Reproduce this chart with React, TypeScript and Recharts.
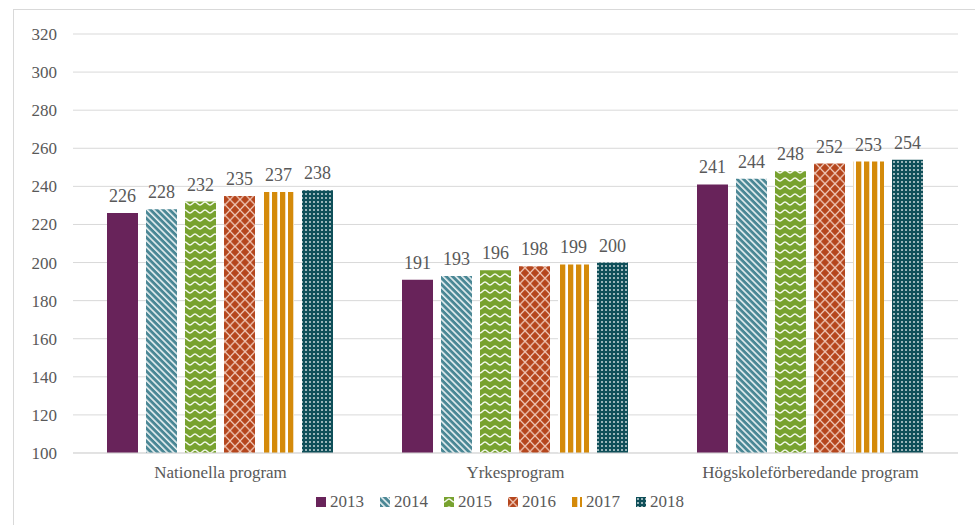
import React from "react";
import { BarChart, Bar, XAxis, YAxis, CartesianGrid, LabelList } from "recharts";

const categories = ["Nationella program", "Yrkesprogram", "Högskoleförberedande program"];
const years = ["2013", "2014", "2015", "2016", "2017", "2018"];
const v2013 = [226, 191, 241];
const v2014 = [228, 193, 244];
const v2015 = [232, 196, 248];
const v2016 = [235, 198, 252];
const v2017 = [237, 199, 253];
const v2018 = [238, 200, 254];
const yTicks = [100, 120, 140, 160, 180, 200, 220, 240, 260, 280, 300, 320];

const seriesValues = [v2013, v2014, v2015, v2016, v2017, v2018];
const data = categories.map((c, i) => {
  const row: any = { name: c };
  years.forEach((y, k) => (row[y] = seriesValues[k][i]));
  return row;
});

const fills = ["#68235a", "url(#p2014)", "url(#p2015)", "url(#p2016)", "url(#p2017)", "url(#p2018)"];
const FONT = "Liberation Serif";
const TXT = "#595959";

function Patterns() {
  return (
    <svg width="0" height="0" style={{ position: "absolute" }}>
      <defs>
        <pattern id="p2014" patternUnits="userSpaceOnUse" width="4.5" height="4.5" patternTransform="rotate(-45)">
          <rect width="4.5" height="4.5" fill="#4a8795" />
          <rect x="0" y="0" width="1.6" height="4.5" fill="#e8f0f2" />
        </pattern>
        <pattern id="p2015" patternUnits="userSpaceOnUse" width="10" height="8">
          <rect width="10" height="8" fill="#78a22f" />
          <path d="M0,5 C2,5 3,2 5,2 C7,2 8,5 10,5" stroke="#f4f8ec" strokeWidth="1.5" fill="none" />
        </pattern>
        <pattern id="p2016" patternUnits="userSpaceOnUse" width="10" height="10.5">
          <rect width="10" height="10.5" fill="#b5461d" />
          <path d="M0,0 L10,10.5 M10,0 L0,10.5" stroke="#f1cbbb" strokeWidth="1.2" fill="none" />
        </pattern>
        <pattern id="p2017" patternUnits="userSpaceOnUse" width="8" height="8">
          <rect width="8" height="8" fill="#d48a0a" />
          <rect x="5.3" y="0" width="2.7" height="8" fill="#ffffff" />
        </pattern>
        <pattern id="p2018" patternUnits="userSpaceOnUse" width="4" height="4">
          <rect width="4" height="4" fill="#0f4f59" />
          <rect x="1.2" y="1.2" width="1.6" height="1.6" fill="#ffffff" opacity="0.9" />
        </pattern>
      </defs>
    </svg>
  );
}

export default function App() {
  return (
    <div style={{ position: "absolute", top: 0, left: 0, width: 975, height: 525, overflow: "hidden", background: "#fff", fontFamily: FONT }}>
      <Patterns />
      <div style={{ position: "absolute", left: 13, top: 9, width: 1000, height: 600, border: "1px solid #d9d9d9", boxSizing: "border-box" }} />
      <div style={{ position: "absolute", left: 0, top: 0 }}>
        <BarChart
          width={975}
          height={525}
          data={data}
          margin={{ top: 34, right: 17, bottom: 42, left: 0 }}
          barCategoryGap={34}
          barGap={8}
          style={{ fontFamily: FONT }}
        >
          <CartesianGrid vertical={false} stroke="#d9d9d9" strokeWidth={1} />
          <XAxis
            dataKey="name"
            height={30}
            tickLine={false}
            axisLine={{ stroke: "#d9d9d9" }}
            tickMargin={7}
            tick={{ fill: TXT, fontSize: 17, fontFamily: FONT }}
          />
          <YAxis
            width={73}
            domain={[100, 320]}
            ticks={yTicks}
            tickLine={false}
            axisLine={false}
            tickMargin={10}
            interval={0}
            allowDataOverflow
            tick={{ fill: TXT, fontSize: 17, fontFamily: FONT }}
          />
          {years.map((y, k) => (
            <Bar key={y} dataKey={y} fill={fills[k]} isAnimationActive={false}>
              <LabelList dataKey={y} position="top" offset={11} fill={TXT} fontSize={18} fontFamily={FONT} />
            </Bar>
          ))}
        </BarChart>
      </div>
      <div
        style={{
          position: "absolute",
          left: 0,
          width: 1000,
          top: 492,
          display: "flex",
          justifyContent: "center",
          fontFamily: FONT,
          fontSize: 17,
          color: TXT,
          lineHeight: "20px",
        }}
      >
        {years.map((y, k) => (
          <div key={y} style={{ display: "flex", alignItems: "center", marginRight: k < 5 ? 16 : 0 }}>
            <svg width="10" height="10" style={{ marginRight: 4 }}>
              <rect width="10" height="10" fill={fills[k]} />
            </svg>
            <span>{y}</span>
          </div>
        ))}
      </div>
    </div>
  );
}
